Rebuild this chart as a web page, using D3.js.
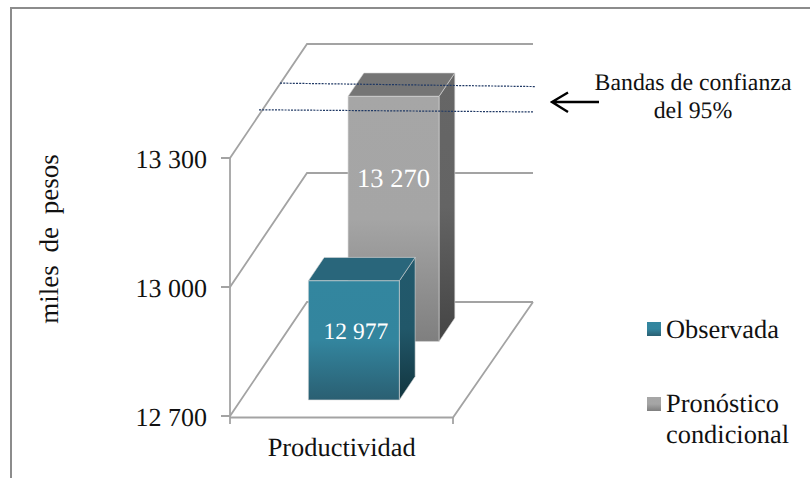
<!DOCTYPE html>
<html>
<head>
<meta charset="utf-8">
<script src="https://cdn.jsdelivr.net/npm/d3@7/dist/d3.min.js"></script>
<style>
html,body{margin:0;padding:0;background:#fff}
svg{display:block}
text{font-family:"Liberation Serif",serif;fill:#111;text-rendering:geometricPrecision}
</style>
</head>
<body>
<svg id="chart" width="810" height="478"></svg>
<script>
const category = "Productividad";
const series = ["Observada", "Pronóstico condicional"];
const values = [12977, 13270];
const valueLabels = ["12 977", "13 270"];
const tickValues = [12700, 13000, 13300];
const tickLabels = ["12 700", "13 000", "13 300"];
const bandLeftValues = [13209, 13147];
const bandRightValues = [13201, 13142];
const bandNote = ["Bandas de confianza", "del 95%"];
const axisTitle = "miles de pesos";

const svg = d3.select("#chart");

// Oblique projection: value sets the height, width runs along the front edge,
// depth shifts a point up and to the right.
const yVal = d3.scaleLinear().domain([12700, 13300]).range([416, 158]);
const xFront = d3.scaleBand().domain([category]).range([230, 453]);
const depth = d3.scaleBand().domain(series).range([0, 1]).paddingInner(0.6).paddingOuter(0.275);
const depthX = 77, depthY = 114;
const proj = (x, z, d) => [x + d * depthX, yVal(z) - d * depthY];
const pathOf = pts => "M" + pts.map(p => p.join(",")).join("L") + "Z";

const defs = svg.append("defs");
function gradient(id, stops) {
  const g = defs.append("linearGradient").attr("id", id)
    .attr("x1", 0).attr("y1", 0).attr("x2", 0).attr("y2", 1);
  stops.forEach(([o, c]) => g.append("stop").attr("offset", o).attr("stop-color", c));
}
gradient("frontBlue", [[0, "#33869f"], [0.5, "#33859e"], [1, "#2a5f72"]]);
gradient("sideBlue", [[0, "#22596c"], [0.5, "#215769"], [1, "#12353f"]]);
gradient("frontGray", [[0, "#a6a6a6"], [0.5, "#a5a5a5"], [1, "#7f7f7f"]]);
gradient("sideGray", [[0, "#666666"], [0.5, "#646464"], [1, "#444444"]]);
const styles = [
  {front: "url(#frontBlue)", side: "url(#sideBlue)", top: "#29667b", labelAt: 0.49, labelSize: 23.5, labelDx: 2},
  {front: "url(#frontGray)", side: "url(#sideGray)", top: "#757575", labelAt: 0.37, labelSize: 26.5, labelDx: 0}
];

// Outer frame, open toward the right and bottom edges of the page
svg.append("path").attr("fill", "none").attr("stroke", "#8c8c8c").attr("stroke-width", 2)
  .attr("d", "M11,478V8H810");

// Walls and floor
const wall = svg.append("g").attr("fill", "none").attr("stroke", "#a3a3a3").attr("stroke-width", 1.8);
const xL = xFront.range()[0], xR = xFront.range()[1];
const backExtra = 3;
tickValues.forEach(t => {
  wall.append("path").attr("d", d3.line()([[xL - 9, yVal(t)], proj(xL, t, 0), proj(xL, t, 1), proj(xR + backExtra, t, 1)]));
});
wall.append("path").attr("d", d3.line()([proj(xL, 13300, 0), [xL, 424]]));
wall.append("path").attr("d", d3.line()([proj(xR + backExtra, 12700, 1), [xR, yVal(12700) + 1.5], [xL, yVal(12700) + 1.5]]));
wall.append("path").attr("d", d3.line()([[xR, yVal(12700) + 1.5], [xR, 424]]));

// Bars, rear series first
const barWidth = xFront.bandwidth() * 0.408;
series.map((s, i) => i).reverse().forEach(i => {
  const d0 = depth(series[i]), d1 = d0 + depth.bandwidth();
  const x0 = xL + (i === 0 ? 67.5 : 67.7), x1 = x0 + barWidth;
  const g = svg.append("g");
  const v = values[i], base = 12700, st = styles[i];
  g.append("path").attr("fill", st.side).attr("stroke", "#d8d8d8").attr("stroke-width", 0.6)
    .attr("d", pathOf([proj(x1, v, d0), proj(x1, v, d1), proj(x1, base, d1), proj(x1, base, d0)]));
  g.append("path").attr("fill", st.top).attr("stroke", "#d8d8d8").attr("stroke-width", 0.6)
    .attr("d", pathOf([proj(x0, v, d0), proj(x0, v, d1), proj(x1, v, d1), proj(x1, v, d0)]));
  g.append("path").attr("fill", st.front).attr("stroke", "#d8d8d8").attr("stroke-width", 0.6)
    .attr("d", pathOf([proj(x0, v, d0), proj(x1, v, d0), proj(x1, base, d0), proj(x0, base, d0)]));
  const p0 = proj((x0 + x1) / 2, v, d0), p1 = proj((x0 + x1) / 2, base, d0);
  g.append("text").attr("x", p0[0] + st.labelDx).attr("y", p0[1] + (p1[1] - p0[1]) * st.labelAt)
    .attr("text-anchor", "middle").attr("font-size", st.labelSize)
    .style("fill", "#fff").text(valueLabels[i]);
});

// Confidence band lines, anchored on the back wall
const bandExtents = [[280, 535], [259, 533]];
bandLeftValues.forEach((lv, i) => {
  svg.append("line")
    .attr("x1", bandExtents[i][0]).attr("x2", bandExtents[i][1])
    .attr("y1", yVal(lv) - depthY).attr("y2", yVal(bandRightValues[i]) - depthY)
    .attr("stroke", "#1f3864").attr("stroke-width", 1.2).attr("stroke-dasharray", "2 1.2");
});

// Arrow pointing at the bands
svg.append("path").attr("fill", "none").attr("stroke", "#000").attr("stroke-width", 2.4)
  .attr("d", "M599,102H552M568,92.5L552,102L568,112");
bandNote.forEach((t, i) => {
  svg.append("text").attr("x", 693).attr("y", 90 + i * 28).attr("text-anchor", "middle")
    .attr("font-size", 23.8).text(t);
});

// Axis labels
tickValues.forEach((t, i) => {
  svg.append("text").attr("x", 207).attr("y", yVal(t) + 9.5).attr("text-anchor", "end")
    .attr("font-size", 26).text(tickLabels[i]);
});
svg.append("text").attr("x", 341.7).attr("y", 456).attr("text-anchor", "middle")
  .attr("font-size", 26.4).text(category);
svg.append("text").attr("transform", "translate(58,239) rotate(-90)").attr("text-anchor", "middle")
  .attr("font-size", 27).style("word-spacing", "6px").text(axisTitle);

// Legend
const legendY = [322, 397];
svg.append("rect").attr("x", 647).attr("y", legendY[0]).attr("width", 14).attr("height", 14).attr("fill", "url(#frontBlue)");
svg.append("rect").attr("x", 647).attr("y", legendY[1]).attr("width", 14).attr("height", 14).attr("fill", "url(#frontGray)");
svg.append("text").attr("x", 666).attr("y", 338).attr("font-size", 26.4).text(series[0]);
const parts = series[1].split(" ");
svg.append("text").attr("x", 666).attr("y", 412).attr("font-size", 26.4).text(parts[0]);
svg.append("text").attr("x", 666).attr("y", 443).attr("font-size", 26.4).text(parts[1]);
</script>
</body>
</html>
